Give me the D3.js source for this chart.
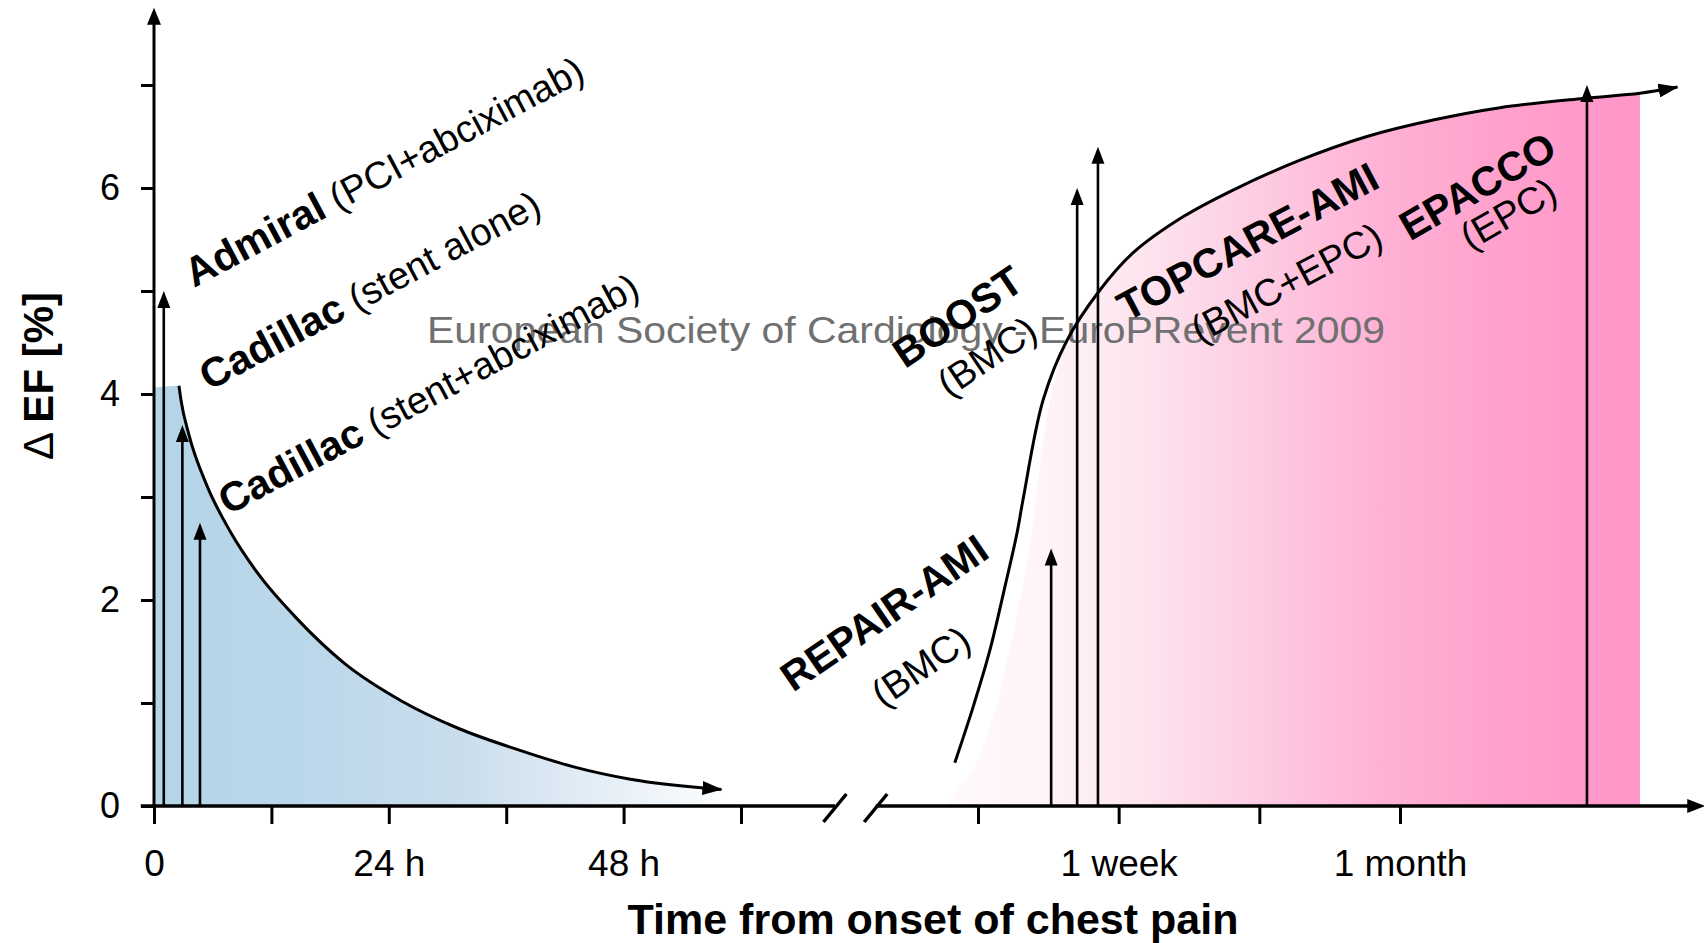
<!DOCTYPE html>
<html>
<head>
<meta charset="utf-8">
<script src="https://cdn.jsdelivr.net/npm/d3@7"></script>
<style>
  body { margin: 0; background: #fff; }
  svg { display: block; }
  text { font-family: "Liberation Sans", Arial, Helvetica, sans-serif; white-space: pre; }
</style>
</head>
<body>
<svg id="chart" width="1704" height="943"></svg>
<script>
// ---- axis ticks ----
const efTicks = [0, 1, 2, 3, 4, 5, 6, 7];
const efTickLabels = [0, 2, 4, 6];
const hourTicks = [0, 12, 24, 36, 48, 60];
const hourTickLabels = { 0: "0", 24: "24 h", 48: "48 h" };
const weekTicks = [0.5, 1, 2, 4];
const weekTickLabels = { 1: "1 week", 4: "1 month" };

// ---- early reperfusion trials (time in hours, ΔEF in %) ----
const earlyTrials = ["Admiral", "Cadillac", "Cadillac"];
const earlyTreatments = ["(PCI+abciximab)", "(stent alone)", "(stent+abciximab)"];
const earlyHours = [1.0, 2.9, 4.7];
const earlyEF = [5.0, 3.7, 2.75];

// ---- cell therapy trials (time in weeks, ΔEF in %) ----
const lateTrials = ["REPAIR-AMI", "BOOST", "TOPCARE-AMI", "EPACCO"];
const lateTreatments = ["(BMC)", "(BMC)", "(BMC+EPC)", "(EPC)"];
const lateWeeks = [0.717, 0.815, 0.903, 10.05];
const lateEF = [2.5, 6.0, 6.4, 7.0];

// ---- benefit curve of early reperfusion ----
const earlyCurveHours = [2.55, 2.76, 3.58, 5.41, 7.76, 10.6, 14.8, 19.4, 25.3, 31.2, 37.1, 42.9, 48.7, 58.0];
const earlyCurveEF    = [4.08, 3.94, 3.60, 3.11, 2.67, 2.26, 1.80, 1.39, 1.02, 0.75, 0.55, 0.38, 0.26, 0.16];
const earlyShadeTopEF = 4.06;

// ---- benefit curve of cell therapy ----
const lateCurveWeeks = [0.446, 0.488, 0.530, 0.571, 0.606, 0.624, 0.689, 0.775, 0.912, 1.073, 1.373, 1.757, 2.444, 3.399, 4.708, 6.548, 9.856, 13.05, 15.7];
const lateCurveEF    = [0.42, 0.96, 1.51, 2.13, 2.65, 2.97, 3.94, 4.52, 5.01, 5.37, 5.72, 5.98, 6.27, 6.50, 6.66, 6.78, 6.87, 6.92, 6.98];
// lower-left edge of the shaded region under the cell therapy curve
const lateShadeWeeks = [0.425, 0.493, 0.536, 0.571, 0.609, 0.640, 0.665, 0.685, 0.706];
const lateShadeEF    = [0, 0.40, 0.83, 1.32, 1.90, 2.44, 2.97, 3.46, 3.84];
const lateShadeEndWeeks = 13.05;

// ---- layout ----
const svg = d3.select("#chart");
const y = d3.scaleLinear().domain([0, 7]).range([806, 85]);
const xE = d3.scaleLinear().domain([0, 60]).range([154, 741]);
const xL = d3.scaleLog().base(2).domain([0.5, 4]).range([978, 1400]);
const y0 = y(0);
const axisX = xE(0);

const defs = svg.append("defs");
function gradient(id, x1, x2, stops) {
  const g = defs.append("linearGradient").attr("id", id)
    .attr("gradientUnits", "userSpaceOnUse")
    .attr("x1", x1).attr("x2", x2).attr("y1", 0).attr("y2", 0);
  stops.forEach(([o, c]) => g.append("stop").attr("offset", o).attr("stop-color", c));
}
gradient("blueFade", xE(0), xE(58), [
  [0, "#b5d4e8"], [0.26, "#bbd7ea"], [0.54, "#c9ddec"], [0.72, "#dde9f3"], [0.9, "#f1f6fa"], [1, "#fbfdfe"]
]);
gradient("pinkRise", xL(0.425), xL(lateShadeEndWeeks), [
  [0, "#fffafc"], [0.146, "#fff3f8"], [0.294, "#fde3ee"], [0.458, "#fdcbe2"],
  [0.624, "#ffb2d6"], [0.788, "#ffa2cd"], [0.919, "#ff9acb"], [1, "#ff96c8"]
]);
defs.append("marker").attr("id", "curveHead")
  .attr("markerUnits", "userSpaceOnUse")
  .attr("viewBox", "0 0 20 14").attr("markerWidth", 20).attr("markerHeight", 14)
  .attr("refX", 19).attr("refY", 7).attr("orient", "auto")
  .append("path").attr("d", "M0,0 L20,7 L0,14 Z").attr("fill", "#000");

// ---- shaded areas ----
const earlyPts = earlyCurveHours.map((h, i) => [xE(h), y(earlyCurveEF[i])]);
const earlyShade = [[xE(0), y(earlyShadeTopEF)]].concat(earlyPts);
const areaMono = d3.area().x(d => d[0]).y0(y0).y1(d => d[1]).curve(d3.curveMonotoneX);
const areaSmooth = d3.area().x(d => d[0]).y0(y0).y1(d => d[1]).curve(d3.curveCatmullRom.alpha(0.5));
svg.append("path").attr("d", areaMono(earlyShade)).attr("fill", "url(#blueFade)");

const lateCurvePts = lateCurveWeeks.map((w, i) => [xL(w), y(lateCurveEF[i])]);
const lateShadePts = lateShadeWeeks.map((w, i) => [xL(w), y(lateShadeEF[i])])
  .concat(lateCurveWeeks
    .map((w, i) => [w, lateCurveEF[i]])
    .filter(d => d[0] > 0.75 && d[0] <= lateShadeEndWeeks)
    .map(d => [xL(d[0]), y(d[1])]));
svg.append("path").attr("d", areaSmooth(lateShadePts)).attr("fill", "url(#pinkRise)");

// ---- watermark ----
svg.append("text")
  .attr("x", 427).attr("y", 343)
  .attr("font-size", 36).attr("fill", "#707070")
  .attr("textLength", 958).attr("lengthAdjust", "spacingAndGlyphs")
  .text("European Society of Cardiology - EuroPRevent 2009");

// ---- benefit curves ----
svg.append("path").attr("d", d3.line().curve(d3.curveMonotoneX)(earlyPts))
  .attr("fill", "none").attr("stroke", "#000").attr("stroke-width", 3)
  .attr("marker-end", "url(#curveHead)");
svg.append("path").attr("d", d3.line().curve(d3.curveCatmullRom.alpha(0.5))(lateCurvePts))
  .attr("fill", "none").attr("stroke", "#000").attr("stroke-width", 3)
  .attr("marker-end", "url(#curveHead)");

// ---- trial arrows ----
function upArrow(x, tipY, head = 17, half = 6.5, sw = 2.6) {
  svg.append("line").attr("x1", x).attr("x2", x).attr("y1", y0).attr("y2", tipY + head - 2)
    .attr("stroke", "#000").attr("stroke-width", sw);
  svg.append("path")
    .attr("d", `M${x},${tipY} L${x + half},${tipY + head} L${x - half},${tipY + head} Z`)
    .attr("fill", "#000");
}
earlyHours.forEach((h, i) => upArrow(xE(h), y(earlyEF[i])));
lateWeeks.forEach((w, i) => upArrow(xL(w), y(lateEF[i])));

// ---- axes ----
const efAxisTop = 7.75;
upArrow(axisX, y(efAxisTop), 17, 7, 3);

const yAxis = svg.append("g").attr("transform", `translate(${axisX},0)`)
  .call(d3.axisLeft(y).tickValues(efTicks).tickSize(13).tickPadding(21)
    .tickFormat(d => efTickLabels.includes(d) ? d : ""));
yAxis.select(".domain").remove();
yAxis.selectAll(".tick line").attr("stroke", "#000").attr("stroke-width", 3);
yAxis.selectAll(".tick text").attr("font-size", 36).attr("fill", "#000")
  .attr("font-family", "Liberation Sans, Arial, sans-serif");

const earlyAxisEnd = 69.6;     // hours, where the time axis is broken
const lateAxisStart = 0.302;   // weeks, where the time axis resumes
const lateAxisEnd = 18;

const xAxisE = svg.append("g").attr("transform", `translate(0,${y0})`)
  .call(d3.axisBottom(xE).tickValues(hourTicks).tickSize(18).tickPadding(26)
    .tickFormat(d => hourTickLabels[d] || ""));
const xAxisL = svg.append("g").attr("transform", `translate(0,${y0})`)
  .call(d3.axisBottom(xL).tickValues(weekTicks).tickSize(18).tickPadding(26)
    .tickFormat(d => weekTickLabels[d] || ""));
[xAxisE, xAxisL].forEach(g => {
  g.select(".domain").remove();
  g.selectAll(".tick line").attr("stroke", "#000").attr("stroke-width", 3);
  g.selectAll(".tick text").attr("font-size", 37).attr("fill", "#000")
    .attr("font-family", "Liberation Sans, Arial, sans-serif");
});

const bx1 = xE(earlyAxisEnd), bx2 = xL(lateAxisStart), bxEnd = xL(lateAxisEnd);
svg.append("line").attr("x1", xE(-1.35)).attr("x2", bx1).attr("y1", y0).attr("y2", y0)
  .attr("stroke", "#000").attr("stroke-width", 3.5);
svg.append("line").attr("x1", bx2).attr("x2", bxEnd - 16).attr("y1", y0).attr("y2", y0)
  .attr("stroke", "#000").attr("stroke-width", 3.5);
svg.append("path")
  .attr("d", `M${bxEnd},${y0} L${bxEnd - 18},${y0 - 7} L${bxEnd - 18},${y0 + 7} Z`)
  .attr("fill", "#000");
[bx1, bx2].forEach(cx => {
  svg.append("line").attr("x1", cx - 11.5).attr("y1", y0 + 16).attr("x2", cx + 11.5).attr("y2", y0 - 12)
    .attr("stroke", "#000").attr("stroke-width", 3.5);
});

// ---- axis titles ----
svg.append("text").attr("x", 933).attr("y", 934).attr("text-anchor", "middle")
  .attr("font-size", 43).attr("font-weight", "bold").text("Time from onset of chest pain");
const yTitle = svg.append("text").attr("transform", "translate(53,376) rotate(-90)")
  .attr("text-anchor", "middle").attr("font-size", 42);
yTitle.append("tspan").text("\u0394 ");
yTitle.append("tspan").attr("font-weight", "bold").text("EF [%]");

// ---- trial labels ----
const nameSize = 41, treatSize = 38;
const earlyLabelPos = [[4.09, 5.03], [5.62, 4.03], [7.56, 2.82]];
const earlyLabelAngle = -28;
earlyTrials.forEach((name, i) => {
  const [h, v] = earlyLabelPos[i];
  const t = svg.append("text")
    .attr("transform", `translate(${xE(h)},${y(v)}) rotate(${earlyLabelAngle})`);
  t.append("tspan").attr("font-weight", "bold").attr("font-size", nameSize).text(name);
  t.append("tspan").attr("font-size", treatSize).text(" " + earlyTreatments[i]);
});

const lateNamePos = [[0.201, 1.10], [0.349, 4.24], [1.042, 4.70], [4.20, 5.48]];
const lateTreatPos = [[0.313, 0.95], [0.433, 3.96], [1.493, 4.49], [5.65, 5.39]];
const lateAngles = [-34.5, -34, -28, -30];
lateTrials.forEach((name, i) => {
  const [w, v] = lateNamePos[i];
  svg.append("text")
    .attr("transform", `translate(${xL(w)},${y(v)}) rotate(${lateAngles[i]})`)
    .attr("font-size", nameSize).attr("font-weight", "bold").text(name);
  const [w2, v2] = lateTreatPos[i];
  svg.append("text")
    .attr("transform", `translate(${xL(w2)},${y(v2)}) rotate(${lateAngles[i]})`)
    .attr("font-size", treatSize).text(lateTreatments[i]);
});
</script>
</body>
</html>
